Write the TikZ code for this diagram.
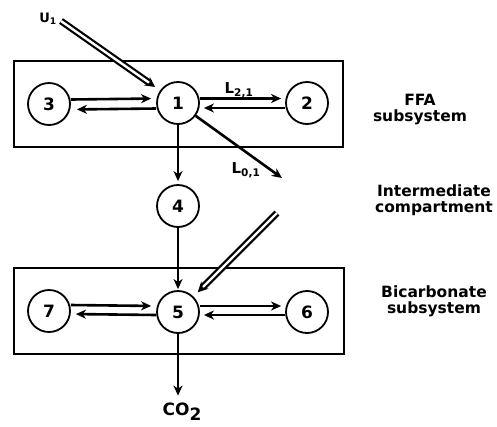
\documentclass[tikz,border=0pt]{standalone}
\usepackage{fontspec}
\setmainfont{DejaVu Sans}
\usetikzlibrary{arrows.meta}

\begin{document}
\begin{tikzpicture}[x=1pt,y=-1pt,
    cmp/.style={circle,draw,line width=1.8pt,minimum size=42pt,inner sep=0pt,
      font=\fontsize{17}{17}\selectfont\bfseries},
    sys/.style={draw,line width=2pt},
    flow/.style={line width=2.6pt,-{Stealth[length=10pt,width=9pt,inset=3pt]}},
    inp/.style={double,double distance=2.4pt,line width=2.2pt,
      -{Stealth[length=10pt,width=10pt,inset=3pt]}},
    lbl/.style={font=\fontsize{15.5}{16}\selectfont\bfseries,align=center},
    rate/.style={font=\fontsize{15}{15}\selectfont\bfseries}]
  \useasboundingbox (0,0) rectangle (497,426);
  % subsystem boxes
  \draw[sys] (14,61) rectangle (343,147);
  \draw[sys] (14,268) rectangle (344,354);
  % compartments
  \node[cmp] (n1) at (178,103) {1};
  \node[cmp] (n2) at (307,103) {2};
  \node[cmp] (n3) at (49,104) {3};
  \node[cmp] (n4) at (178,206) {4};
  \node[cmp] (n5) at (178,312) {5};
  \node[cmp] (n6) at (307,312) {6};
  \node[cmp] (n7) at (49,311) {7};
  \node[font=\fontsize{17}{17}\selectfont\bfseries] (co2) at (182,412)
    {CO\raisebox{-0.3em}{2}};
  % inputs and outflow ends
  \coordinate (u1start) at (61,21);
  \coordinate (b5start) at (277,213);
  \coordinate (l01end) at (282,178);
  \node[font=\fontsize{13}{13}\selectfont\bfseries] (u1) at (48,19)
    {U\textsubscript{1}};
  \node[rate] (l21) at (239,90) {L\textsubscript{2,1}};
  \node[rate] (l01) at (246,170) {L\textsubscript{0,1}};
  % FFA subsystem
  \draw[flow,shorten >=5pt] ([yshift=4.5pt]n3.east) -- ([yshift=4.5pt]n1.west);
  \draw[flow,shorten >=6pt] ([yshift=-5.5pt]n1.west) -- ([yshift=-5.5pt]n3.east);
  \draw[flow,shorten >=4pt] ([yshift=4.5pt]n1.east) -- ([yshift=4.5pt]n2.west);
  \draw[flow,shorten >=4pt] ([yshift=-5pt]n2.west) -- ([yshift=-5pt]n1.east);
  \draw[flow] (n1.-36) -- (l01end);
  \draw[inp,shorten >=6pt] (u1start) -- (n1);
  % intermediate
  \draw[flow,shorten >=3pt] (n1) -- (n4);
  \draw[flow,shorten >=1pt] (n4) -- (n5);
  % bicarbonate subsystem
  \draw[flow,shorten >=5pt] ([yshift=6pt]n7.east) -- ([yshift=6pt]n5.west);
  \draw[flow,shorten >=5pt] ([yshift=-3pt]n5.west) -- ([yshift=-3pt]n7.east);
  \draw[flow,shorten >=4pt] ([yshift=6pt]n5.east) -- ([yshift=6pt]n6.west);
  \draw[flow,shorten >=4pt] ([yshift=-3pt]n6.west) -- ([yshift=-3pt]n5.east);
  \draw[inp,shorten >=6pt] (b5start) -- (n5);
  \draw[flow,shorten >=4pt] (n5) -- (n5 |- co2.north);
  % labels
  \node[lbl] (ffa) at (420,110) {FFA\\subsystem};
  \node[lbl] (inter) at (434,200) {Intermediate\\compartment};
  \node[lbl] (bicarb) at (434,301) {Bicarbonate\\subsystem};
\end{tikzpicture}
\end{document}
